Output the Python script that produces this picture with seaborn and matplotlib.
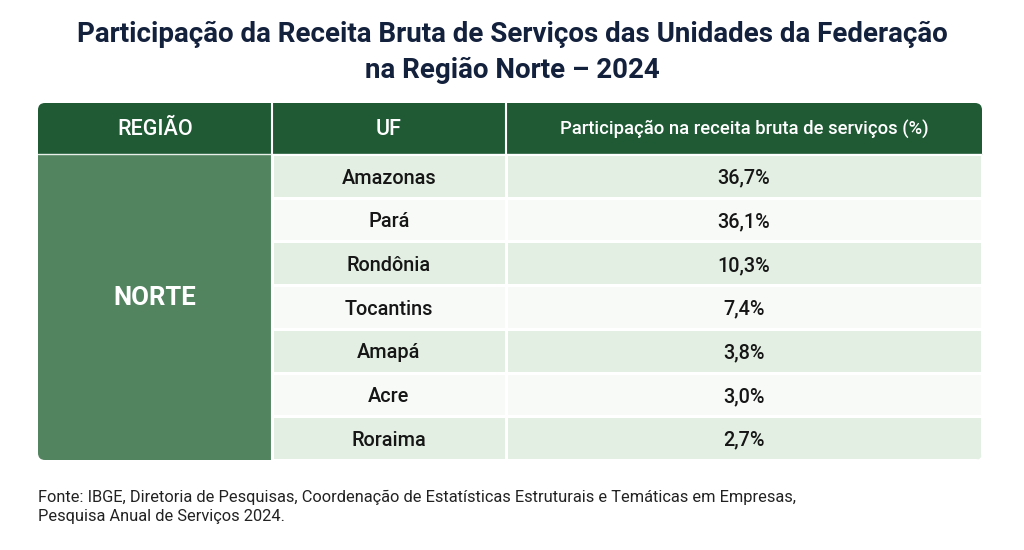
import numpy as np
import pandas as pd
import seaborn as sns
import matplotlib.pyplot as plt
from matplotlib.colors import ListedColormap
from matplotlib.patches import FancyBboxPatch, Rectangle

# data
regiao = 'NORTE'
ufs = ['Amazonas', 'Pará', 'Rondônia', 'Tocantins', 'Amapá', 'Acre', 'Roraima']
participacao = [36.7, 36.1, 10.3, 7.4, 3.8, 3.0, 2.7]
headers = ['REGIÃO', 'UF', 'Participação na receita bruta de serviços (%)']
titulo = 'Participação da Receita Bruta de Serviços das Unidades da Federação\nna Região Norte – 2024'
fonte = ('Fonte: IBGE, Diretoria de Pesquisas, Coordenação de Estatísticas Estruturais e Temáticas em Empresas,\n'
         'Pesquisa Anual de Serviços 2024.')

sns.set_theme(style='white')
plt.rcParams['font.family'] = ['Roboto', 'DejaVu Sans']

W, H = 1024, 550
fig = plt.figure(figsize=(W / 100, H / 100), dpi=100)
fig.patch.set_facecolor('white')

# background axes in pixel coordinates
bg = fig.add_axes([0, 0, 1, 1])
bg.set_xlim(0, W)
bg.set_ylim(H, 0)
bg.axis('off')

x0, x1, x2, x3 = 38, 272, 506, 982
y_top, y_head, y_bot = 103, 154, 460

green_dark = '#1f5a35'
green_mid = '#528460'
row_light = '#e3efe3'
row_white = '#f7faf7'

clip = FancyBboxPatch((x0, y_top), x3 - x0, y_bot - y_top,
                      boxstyle='round,pad=0,rounding_size=7',
                      transform=bg.transData, facecolor='none', edgecolor='none')
bg.add_patch(clip)

# header and merged region cell
hdr = Rectangle((x0, y_top), x3 - x0, y_head - y_top, facecolor=green_dark, edgecolor='none')
reg = Rectangle((x0, y_head), x1 - x0, y_bot - y_head, facecolor=green_mid, edgecolor='none')
for p in (hdr, reg):
    bg.add_patch(p)
    p.set_clip_path(clip)

for lbl, a, b, fs in zip(headers, [x0, x1, x2], [x1, x2, x3], [15.5, 15.5, 13.3]):
    bg.text((a + b) / 2, (y_top + y_head) / 2 + 1, lbl, color='white', ha='center', va='center',
            fontsize=fs, fontweight='medium')
bg.text((x0 + x1) / 2, 298, regiao, color='white', ha='center', va='center',
        fontsize=18.5, fontweight='bold')

# body cells via heatmaps
parity = np.array([[i % 2] for i in range(len(ufs))])
cmap = ListedColormap([row_light, row_white])
pct_labels = [f'{v:.1f}%'.replace('.', ',') for v in participacao]
for (a, b), labels in zip([(x1, x2), (x2, x3)], [ufs, pct_labels]):
    ax = fig.add_axes([a / W, 1 - y_bot / H, (b - a) / W, (y_bot - y_head) / H])
    sns.heatmap(parity, ax=ax, cmap=cmap, vmin=0, vmax=1, cbar=False,
                annot=np.array([[l] for l in labels]), fmt='',
                annot_kws={'fontsize': 14.3, 'color': '#161616', 'fontweight': 'medium'},
                linewidths=0.8, linecolor='white', xticklabels=False, yticklabels=False)
    ax.collections[0].set_clip_path(clip)
    for t in ax.texts:
        t.set_y(t.get_position()[1] + 0.05)

# column separators
for x in (x1, x2):
    bg.plot([x, x], [y_top, y_bot], color='white', lw=1.5, zorder=5)
bg.plot([x0, x3], [y_head, y_head], color='#e8efe8', lw=1, zorder=5)

bg.text(W / 2, 52.5, titulo, ha='center', va='center', fontsize=20, fontweight='bold',
        color='#14213d', linespacing=1.4)
bg.text(x0, 507, fonte, ha='left', va='center', fontsize=11.8, color='#222222', linespacing=1.3)

fig.savefig('out.png', dpi=100, facecolor='white')
